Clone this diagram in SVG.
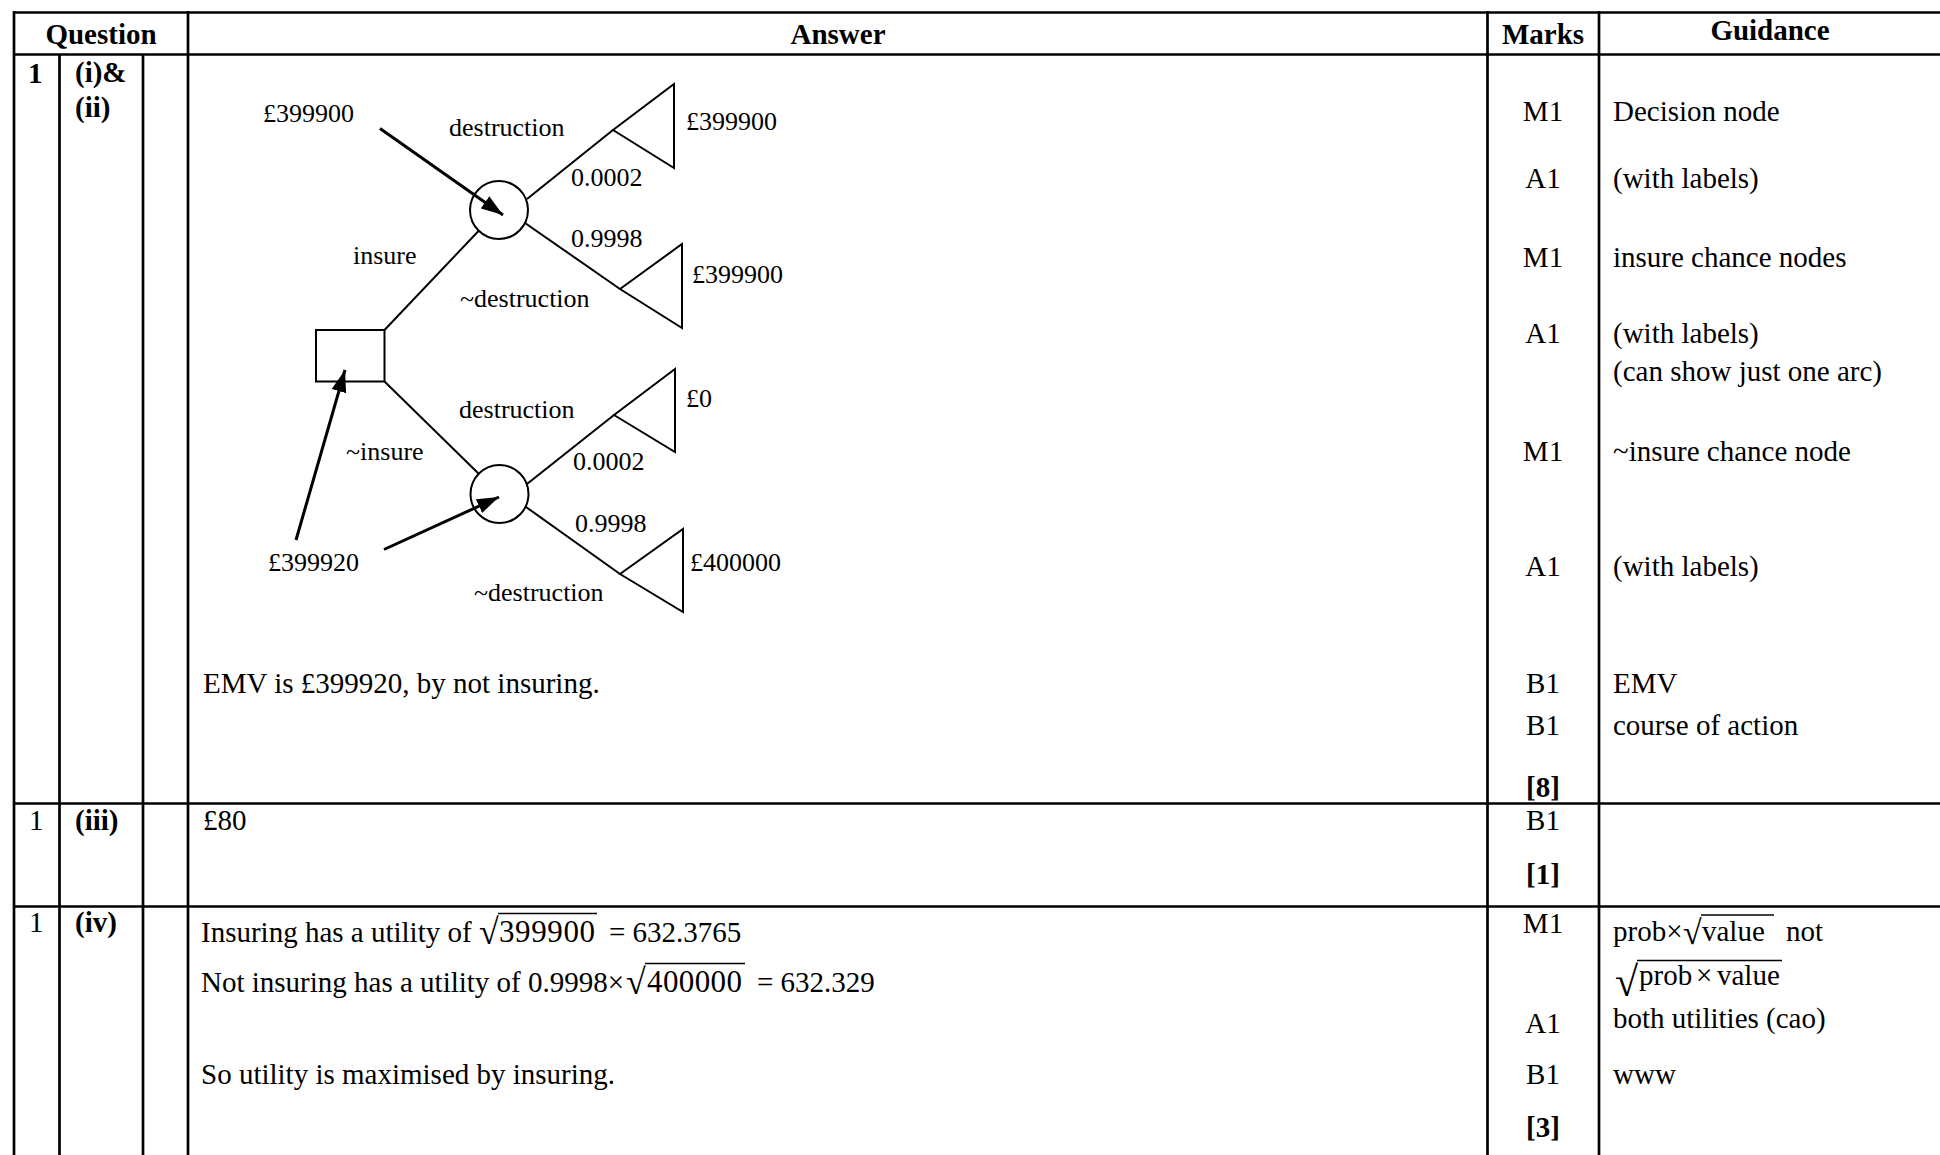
<svg xmlns="http://www.w3.org/2000/svg" width="1940" height="1155" viewBox="0 0 1940 1155">
<style>
.t{font-family:"Liberation Serif","Times New Roman",serif;font-size:29px;fill:#000}
.b{font-weight:bold}
.m{text-anchor:middle}
.d{font-family:"Liberation Serif","Times New Roman",serif;font-size:26px;fill:#000}
.grid{stroke:#000;stroke-width:2.7;fill:none}
.edge{stroke:#000;stroke-width:2;fill:none}
.node{stroke:#000;stroke-width:2;fill:#fff}
.arrow{stroke:#000;stroke-width:3;fill:none;marker-end:url(#ah)}
.vinc{stroke:#000;stroke-width:1.6}
.rad{font-family:"Liberation Serif","Times New Roman",serif;fill:#000}
</style>
<defs>
<marker id="ah" markerUnits="userSpaceOnUse" markerWidth="24" markerHeight="16" refX="22" refY="8" orient="auto">
<path d="M0,0.5 L22,8 L0,15.5 Z" fill="#000"/>
</marker>
</defs>
<rect width="1940" height="1155" fill="#fff"/>

<g id="table">
<line class="grid" x1="14" y1="12.5" x2="1940" y2="12.5"/>
<line class="grid" x1="14" y1="54.5" x2="1940" y2="54.5"/>
<line class="grid" x1="14" y1="803.5" x2="1940" y2="803.5"/>
<line class="grid" x1="14" y1="906.5" x2="1940" y2="906.5"/>
<line class="grid" x1="14" y1="11" x2="14" y2="1155"/>
<line class="grid" x1="59.5" y1="54.5" x2="59.5" y2="1155"/>
<line class="grid" x1="143" y1="54.5" x2="143" y2="1155"/>
<line class="grid" x1="188" y1="11" x2="188" y2="1155"/>
<line class="grid" x1="1487.5" y1="11" x2="1487.5" y2="1155"/>
<line class="grid" x1="1599" y1="11" x2="1599" y2="1155"/>
</g>

<g id="header">
<text class="t b m" x="101" y="44">Question</text>
<text class="t b m" x="838" y="44">Answer</text>
<text class="t b m" x="1543" y="44">Marks</text>
<text class="t b m" x="1770" y="40">Guidance</text>
</g>

<g id="row1">
<text class="t b" x="28" y="83">1</text>
<text class="t b" x="75" y="82">(i)&amp;</text>
<text class="t b" x="75" y="117">(ii)</text>
<text class="t" x="203" y="693">EMV is £399920, by not insuring.</text>
<g class="t m">
<text x="1543" y="121">M1</text>
<text x="1543" y="188">A1</text>
<text x="1543" y="267">M1</text>
<text x="1543" y="343">A1</text>
<text x="1543" y="461">M1</text>
<text x="1543" y="576">A1</text>
<text x="1543" y="693">B1</text>
<text x="1543" y="735">B1</text>
</g>
<text class="t b m" x="1543" y="797">[8]</text>
<g class="t">
<text x="1613" y="121">Decision node</text>
<text x="1613" y="188">(with labels)</text>
<text x="1613" y="267">insure chance nodes</text>
<text x="1613" y="343">(with labels)</text>
<text x="1613" y="381">(can show just one arc)</text>
<text x="1613" y="461">~insure chance node</text>
<text x="1613" y="576">(with labels)</text>
<text x="1613" y="693">EMV</text>
<text x="1613" y="735">course of action</text>
</g>
</g>

<g id="connectors">
<line class="edge" x1="384.5" y1="330" x2="478.5" y2="231"/>
<line class="edge" x1="384.5" y1="381.5" x2="479" y2="474"/>
<line class="edge" x1="527" y1="199" x2="613" y2="130"/>
<line class="edge" x1="525" y1="223" x2="620" y2="289"/>
<line class="edge" x1="527" y1="484" x2="614" y2="415"/>
<line class="edge" x1="526" y1="507" x2="620" y2="574"/>
</g>

<g id="decision-node"><rect class="node" x="316" y="330" width="68.5" height="51.5"/></g>
<g id="chance-insure"><circle class="node" cx="499" cy="210" r="29"/></g>
<g id="chance-not-insure"><circle class="node" cx="499.5" cy="494" r="29"/></g>
<g id="terminal-1"><path class="edge" d="M613,130 L674,84 L674,168 Z"/></g>
<g id="terminal-2"><path class="edge" d="M620,289 L682,244 L682,328 Z"/></g>
<g id="terminal-3"><path class="edge" d="M614,415 L675,369 L675,452 Z"/></g>
<g id="terminal-4"><path class="edge" d="M620,574 L683,529 L683,612 Z"/></g>

<g id="value-arrows">
<line class="arrow" x1="380" y1="128.5" x2="503" y2="215"/>
<line class="arrow" x1="296" y1="540" x2="345" y2="370"/>
<line class="arrow" x1="384" y1="549.5" x2="499" y2="497"/>
</g>

<g id="tree-labels" class="d">
<text x="263" y="122">£399900</text>
<text x="449" y="136">destruction</text>
<text x="686" y="130">£399900</text>
<text x="571" y="186">0.0002</text>
<text x="571" y="247">0.9998</text>
<text x="353" y="264">insure</text>
<text x="460" y="307">~destruction</text>
<text x="692" y="283">£399900</text>
<text x="459" y="418">destruction</text>
<text x="686" y="407">£0</text>
<text x="346" y="460">~insure</text>
<text x="573" y="470">0.0002</text>
<text x="575" y="532">0.9998</text>
<text x="268" y="571">£399920</text>
<text x="690" y="571">£400000</text>
<text x="474" y="601">~destruction</text>
</g>

<g id="row2">
<text class="t" x="29" y="830">1</text>
<text class="t b" x="75" y="830">(iii)</text>
<text class="t" x="203" y="830">£80</text>
<text class="t m" x="1543" y="830">B1</text>
<text class="t b m" x="1543" y="884">[1]</text>
</g>

<g id="row3">
<text class="t" x="29" y="932">1</text>
<text class="t b" x="75" y="932">(iv)</text>
<text class="t" x="201" y="942">Insuring has a utility of</text>
<text class="rad" x="479" y="944" style="font-size:36px">√</text>
<line class="vinc" x1="498" y1="913.5" x2="597" y2="913.5"/>
<text class="t" x="499" y="942" textLength="96" style="font-size:31px">399900</text>
<text class="t" x="609" y="942">= 632.3765</text>
<text class="t" x="201" y="992">Not insuring has a utility of 0.9998×</text>
<text class="rad" x="626" y="994" style="font-size:36px">√</text>
<line class="vinc" x1="645" y1="963.5" x2="745" y2="963.5"/>
<text class="t" x="647" y="992" textLength="95" style="font-size:31px">400000</text>
<text class="t" x="757" y="992">= 632.329</text>
<text class="t" x="201" y="1084">So utility is maximised by insuring.</text>
<text class="t m" x="1543" y="933">M1</text>
<text class="t m" x="1543" y="1033">A1</text>
<text class="t m" x="1543" y="1084">B1</text>
<text class="t b m" x="1543" y="1137">[3]</text>
<text class="t" x="1613" y="941">prob×</text>
<text class="rad" x="1683" y="944" style="font-size:34px">√</text>
<line class="vinc" x1="1701" y1="915" x2="1774" y2="915"/>
<text class="t" x="1702" y="941">value</text>
<text class="t" x="1786" y="941">not</text>
<text class="rad" x="1615" y="996" style="font-size:42px">√</text>
<line class="vinc" x1="1637" y1="960.5" x2="1782" y2="960.5"/>
<text class="t" x="1639" y="985">prob</text>
<text class="t" x="1696" y="985">×</text>
<text class="t" x="1717" y="985">value</text>
<text class="t" x="1613" y="1028">both utilities (cao)</text>
<text class="t" x="1613" y="1084">www</text>
</g>
</svg>
